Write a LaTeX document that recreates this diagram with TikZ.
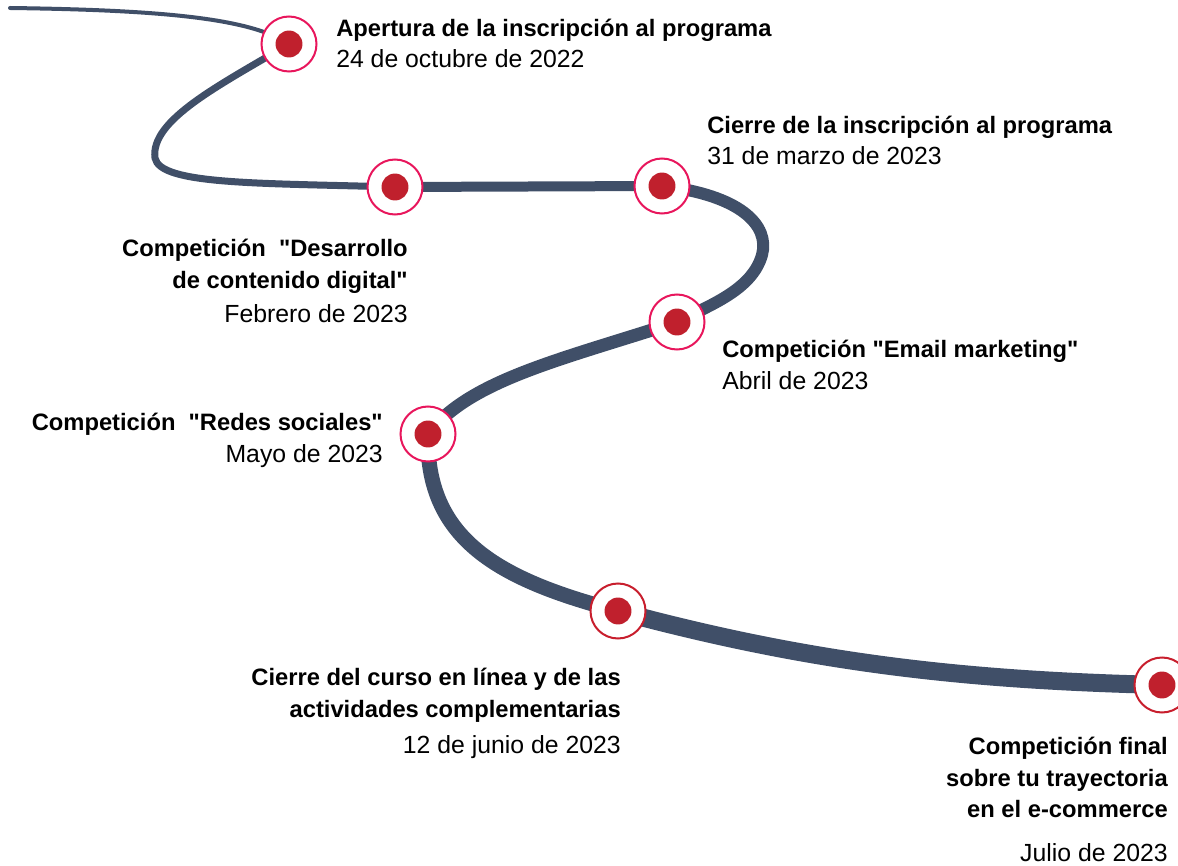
\documentclass[tikz,border=0pt]{standalone}
\usepackage{fontspec}
\setmainfont{Liberation Sans}[Ligatures=TeXOff]
\pgfdeclarelayer{bg}
\pgfsetlayers{bg,main}
\definecolor{roadcol}{RGB}{64,79,104}
\definecolor{ringpink}{RGB}{232,22,92}
\definecolor{ringred}{RGB}{200,30,45}
\definecolor{dotred}{RGB}{192,32,45}

\begin{document}
\begin{tikzpicture}[x=0.75pt,y=0.75pt,yscale=-1,xscale=1,
  milestone/.style={circle,draw=ringpink,line width=1.5pt,fill=white,minimum size=41.25pt,inner sep=0pt,
    path picture={\fill[dotred] (path picture bounding box.center) circle (10.1pt);}},
  lastmile/.style={milestone,draw=ringred},
  road/.style={draw=roadcol,line cap=round},
  head/.style={font=\bfseries\fontsize{17.8}{24}\selectfont,inner sep=0pt},
  when/.style={font=\fontsize{18.6}{24}\selectfont,inner sep=0pt}]
\useasboundingbox (0,0) rectangle (1178,866);

%Shape: Circle markers
\node[milestone] (m1) at (289,44) {};
\node[milestone] (m2) at (395,187) {};
\node[milestone] (m3) at (662,186) {};
\node[milestone] (m4) at (677,322) {};
\node[milestone] (m5) at (428,434) {};
\node[lastmile] (m6) at (618,611) {};
\node[lastmile] (m7) at (1162,685) {};

%Curve Lines: the road, thicker towards the end
\begin{pgfonlayer}{bg}
\coordinate (start) at (10,8);
\draw[road,line width=3pt] (start) .. controls (160,10) and (250,18) .. (m1.center);
\draw[road,line width=5.25pt] (m1.center) .. controls (220,85) and (150,120) .. (155,158) .. controls (160,185) and (260,183) .. (m2.center);
\draw[road,line width=7.5pt] (m2.center) -- (m3.center);
\draw[road,line width=9pt] (m3.center) .. controls (740,195) and (770,225) .. (762,255) .. controls (752,290) and (710,305) .. (m4.center);
\draw[road,line width=9.75pt] (m4.center) .. controls (560,360) and (470,380) .. (m5.center);
\draw[road,line width=11.25pt] (m5.center) .. controls (425,540) and (500,580) .. (m6.center);
\draw[road,line width=13.5pt] (m6.center) .. controls (800,660) and (950,680) .. (m7.center);
\end{pgfonlayer}

% Text Node
\node[head,anchor=base west] (t1) at (336,37) {Apertura de la inscripción al programa};
\node[when,anchor=base west] (d1) at (336,68) {24 de octubre de 2022};
% Text Node
\node[head,anchor=base west] (t2) at (707,134) {Cierre de la inscripción al programa};
\node[when,anchor=base west] (d2) at (707,165) {31 de marzo de 2023};
% Text Node
\node[head,anchor=base east] (t3a) at (408,257) {Competición \ "Desarrollo};
\node[head,anchor=base east] (t3b) at (408,289) {de contenido digital"};
\node[when,anchor=base east] (d3) at (408,322) {Febrero de 2023};
% Text Node
\node[head,anchor=base west] (t4) at (722,357) {Competición "Email marketing"};
\node[when,anchor=base west] (d4) at (722,389) {Abril de 2023};
% Text Node
\node[head,anchor=base east] (t5) at (383,430) {Competición \ "Redes sociales"};
\node[when,anchor=base east] (d5) at (383,462) {Mayo de 2023};
% Text Node
\node[head,anchor=base east] (t6a) at (621,685) {Cierre del curso en línea y de las};
\node[head,anchor=base east] (t6b) at (621,717) {actividades complementarias};
\node[when,anchor=base east] (d6) at (621,753) {12 de junio de 2023};
% Text Node
\node[head,anchor=base east] (t7a) at (1168,754) {Competición final};
\node[head,anchor=base east] (t7b) at (1168,786) {sobre tu trayectoria};
\node[head,anchor=base east] (t7c) at (1168,817) {en el e-commerce};
\node[when,anchor=base east] (d7) at (1168,861) {Julio de 2023};

\end{tikzpicture}
\end{document}
